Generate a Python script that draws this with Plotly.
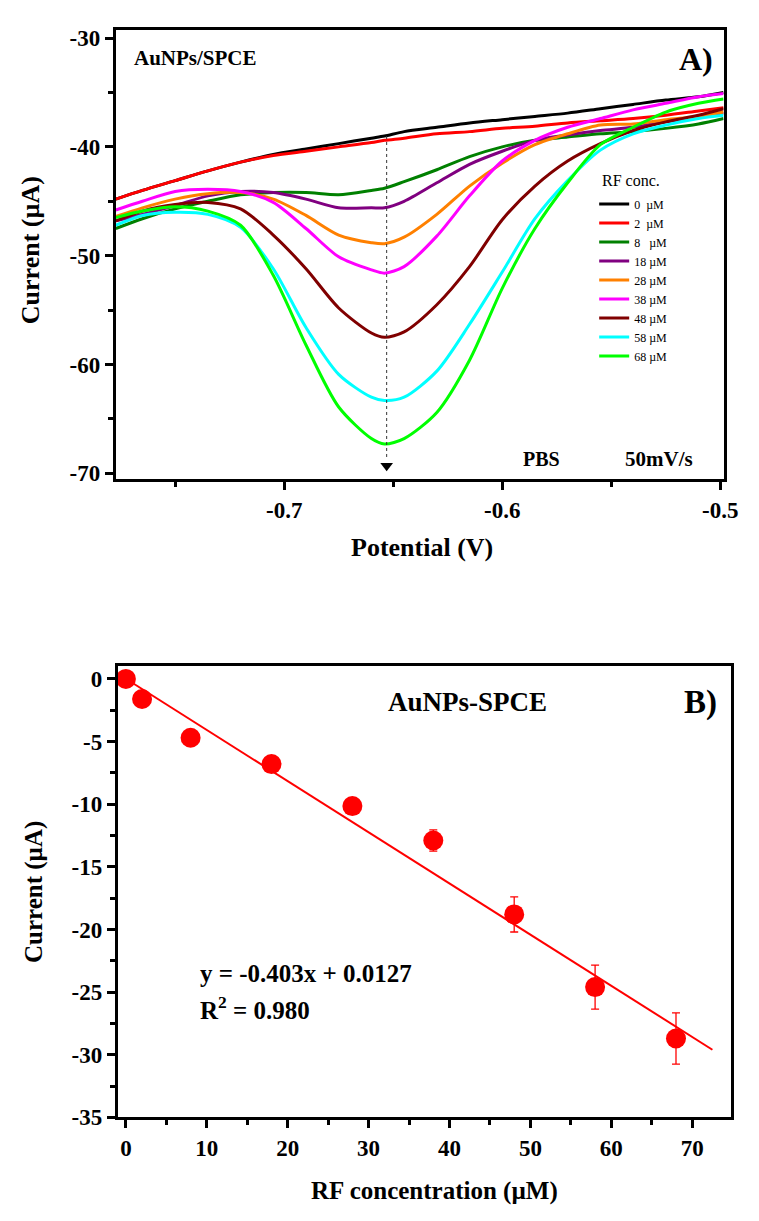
import plotly.graph_objects as go

# ---------------- Panel A data (DPV curves) ----------------
potential = [-0.7772, -0.765, -0.75, -0.735, -0.72, -0.705, -0.69, -0.675, -0.66, -0.654,
             -0.645, -0.63, -0.615, -0.60, -0.585, -0.57, -0.555, -0.54, -0.525, -0.51, -0.4985]

i_0uM = [-44.8, -44.0, -43.1, -42.2, -41.4, -40.7, -40.2, -39.7, -39.2, -39.0,
         -38.6, -38.2, -37.8, -37.5, -37.2, -36.9, -36.5, -36.1, -35.7, -35.4, -35.0]
i_2uM = [-44.8, -44.0, -43.1, -42.2, -41.4, -40.8, -40.4, -40.0, -39.6, -39.4,
         -39.2, -38.8, -38.6, -38.3, -38.1, -37.8, -37.6, -37.4, -37.1, -36.7, -36.4]
i_8uM = [-47.5, -46.6, -45.7, -45.0, -44.4, -44.2, -44.2, -44.4, -44.0, -43.8,
         -43.2, -42.1, -40.9, -40.0, -39.4, -39.1, -38.8, -38.6, -38.3, -37.9, -37.4]
i_18uM = [-46.8, -46.2, -45.4, -44.5, -44.1, -44.2, -44.8, -45.6, -45.6, -45.6,
          -45.0, -43.3, -41.6, -40.4, -39.4, -38.9, -38.5, -38.2, -37.7, -37.2, -36.9]
i_28uM = [-46.4, -45.6, -44.8, -44.3, -44.2, -44.8, -46.3, -48.1, -48.8, -48.9,
          -48.3, -46.2, -43.6, -41.5, -39.8, -38.8, -38.0, -37.9, -37.5, -37.2, -36.8]
i_38uM = [-45.8, -45.0, -44.1, -43.9, -44.1, -45.1, -47.5, -50.1, -51.3, -51.6,
          -51.0, -48.2, -44.5, -41.3, -39.4, -38.2, -37.4, -36.6, -36.0, -35.4, -35.1]
i_48uM = [-46.8, -45.9, -45.3, -45.1, -45.7, -48.1, -51.2, -54.8, -57.1, -57.5,
          -57.0, -54.5, -51.0, -46.7, -43.6, -41.3, -39.7, -38.5, -37.7, -37.1, -36.5]
i_58uM = [-47.2, -46.3, -46.0, -46.2, -47.4, -51.2, -56.6, -60.9, -63.0, -63.3,
          -63.0, -60.6, -56.3, -51.5, -46.6, -43.1, -40.3, -38.8, -38.0, -37.4, -37.1]
i_68uM = [-46.5, -45.9, -45.5, -45.9, -47.2, -51.8, -58.2, -63.9, -66.8, -67.3,
          -66.8, -64.4, -59.6, -53.0, -47.5, -43.3, -39.8, -38.2, -36.8, -36.0, -35.6]

curve_names = ["0\u00a0\u00a0µM", "2\u00a0\u00a0µM", "8\u00a0\u00a0\u00a0µM", "18 µM", "28 µM",
               "38 µM", "48 µM", "58 µM", "68 µM"]
curve_values = [i_0uM, i_2uM, i_8uM, i_18uM, i_28uM, i_38uM, i_48uM, i_58uM, i_68uM]
curve_colors = ["#000000", "#FF0000", "#008000", "#800080", "#FF8000",
                "#FF00FF", "#800000", "#00FFFF", "#00FF00"]

peak_potential = [-0.653, -0.653]
peak_line_current = [-39.0, -68.6]
arrow_current = [-69.3]

a_xticks = [-0.7, -0.6, -0.5]
a_xticklabels = ["-0.7", "-0.6", "-0.5"]
a_xminor = [-0.75, -0.65, -0.55]
a_yticks = [-30, -40, -50, -60, -70]
a_yticklabels = ["-30", "-40", "-50", "-60", "-70"]
a_yminor = [-35, -45, -55, -65]

# ---------------- Panel B data (calibration) ----------------
rf_conc = [0, 2, 8, 18, 28, 38, 48, 58, 68]
peak_current = [0.0, -1.6, -4.7, -6.8, -10.15, -12.9, -18.8, -24.6, -28.7]
current_err = [0.3, 0.3, 0.3, 0.3, 0.3, 0.85, 1.4, 1.75, 2.05]
fit_x = [0, 72.5]
fit_y = [0.0127, -29.6]

b_xticks = [0, 10, 20, 30, 40, 50, 60, 70]
b_xticklabels = ["0", "10", "20", "30", "40", "50", "60", "70"]
b_xminor = [5, 15, 25, 35, 45, 55, 65]
b_yticks = [0, -5, -10, -15, -20, -25, -30, -35]
b_yticklabels = ["0", "-5", "-10", "-15", "-20", "-25", "-30", "-35"]
b_yminor = [-2.5, -7.5, -12.5, -17.5, -22.5, -27.5, -32.5]

W, H = 759, 1221
FONT = "Liberation Serif"


def px(x):
    return x / W


def py(y):
    return 1 - y / H


fig = go.Figure()

for name, vals, col in zip(curve_names, curve_values, curve_colors):
    fig.add_trace(go.Scatter(x=potential, y=vals, mode="lines", name=name,
                             line=dict(color=col, width=3, shape="spline", smoothing=0.8),
                             xaxis="x", yaxis="y", showlegend=True))

fig.add_trace(go.Scatter(x=peak_potential, y=peak_line_current, mode="lines",
                         line=dict(color="#333333", width=1, dash="dot"),
                         xaxis="x", yaxis="y", showlegend=False))
fig.add_trace(go.Scatter(x=peak_potential[:1], y=arrow_current, mode="markers",
                         marker=dict(symbol="triangle-down", size=11, color="black"),
                         xaxis="x", yaxis="y", showlegend=False))

# Panel B
fig.add_trace(go.Scatter(x=fit_x, y=fit_y, mode="lines", line=dict(color="#FF0000", width=2),
                         xaxis="x2", yaxis="y2", showlegend=False))
fig.add_trace(go.Scatter(x=rf_conc, y=peak_current, mode="markers",
                         marker=dict(symbol="circle", size=20, color="#FF0000"),
                         error_y=dict(type="data", array=current_err, visible=True,
                                      color="#FF0000", thickness=1.3, width=4),
                         xaxis="x2", yaxis="y2", showlegend=False))

tickfont = dict(family=FONT, size=23, color="black", weight="bold")
common_axis = dict(showline=True, linecolor="black", linewidth=3, mirror=True,
                   ticks="outside", ticklen=8, tickwidth=3, tickcolor="black",
                   showgrid=False, zeroline=False, tickfont=tickfont)

fig.update_layout(
    width=W, height=H,
    margin=dict(l=0, r=0, t=0, b=0),
    paper_bgcolor="white", plot_bgcolor="white",
    font=dict(family=FONT, color="black"),
    xaxis=dict(domain=[px(110), px(730)], range=[-0.7772, -0.4985], anchor="y",
               tickmode="array", tickvals=a_xticks, ticktext=a_xticklabels,
               minor=dict(tickmode="array", tickvals=a_xminor, ticks="outside",
                          ticklen=5, tickwidth=3, tickcolor="black"),
               **common_axis),
    yaxis=dict(domain=[py(474), py(18)], range=[-70.55, -29.24], anchor="x",
               tickmode="array", tickvals=a_yticks, ticktext=a_yticklabels,
               minor=dict(tickmode="array", tickvals=a_yminor, ticks="outside",
                          ticklen=5, tickwidth=3, tickcolor="black"),
               **common_axis),
    xaxis2=dict(domain=[px(112), px(738)], range=[-1.0, 74.85], anchor="y2",
                tickmode="array", tickvals=b_xticks, ticktext=b_xticklabels,
                minor=dict(tickmode="array", tickvals=b_xminor, ticks="outside",
                           ticklen=5, tickwidth=3, tickcolor="black"),
                **common_axis),
    yaxis2=dict(domain=[py(1121), py(663)], range=[-35, 1.05], anchor="x2",
                tickmode="array", tickvals=b_yticks, ticktext=b_yticklabels,
                minor=dict(tickmode="array", tickvals=b_yminor, ticks="outside",
                           ticklen=5, tickwidth=3, tickcolor="black"),
                **common_axis),
    legend=dict(x=px(598), y=py(180), xanchor="left", yanchor="top",
                font=dict(family=FONT, size=12, color="black"),
                bgcolor="rgba(0,0,0,0)", borderwidth=0, tracegroupgap=0,
                itemwidth=30),
)

bold = "bold"
annotations = [
    dict(text="AuNPs/SPCE", x=px(127), y=py(47), xanchor="left", size=21, weight=bold),
    dict(text="A)", x=px(702), y=py(48), xanchor="center", size=32, weight=bold),
    dict(text="RF conc.", x=px(636), y=py(171), xanchor="center", size=16, weight="normal"),
    dict(text="PBS", x=px(544), y=py(453), xanchor="center", size=20, weight=bold),
    dict(text="50mV/s", x=px(664), y=py(453), xanchor="center", size=21, weight=bold),
    dict(text="Potential (V)", x=px(422), y=py(543), xanchor="center", size=26, weight=bold),
    dict(text="Current (µA)", x=px(23), y=py(242), xanchor="center", size=26, weight=bold,
         textangle=-90),
    dict(text="AuNPs-SPCE", x=px(469), y=py(700), xanchor="center", size=27, weight=bold),
    dict(text="B)", x=px(706), y=py(700), xanchor="center", size=33, weight=bold),
    dict(text="y = -0.403x + 0.0127", x=px(194), y=py(975), xanchor="left", size=25, weight=bold),
    dict(text="R<sup>2</sup> = 0.980", x=px(194), y=py(1010), xanchor="left", size=25, weight=bold),
    dict(text="Current (µA)", x=px(26), y=py(892), xanchor="center", size=25, weight=bold,
         textangle=-90),
    dict(text="RF concentration (µM)", x=px(435), y=py(1196), xanchor="center", size=25,
         weight=bold),
]
for a in annotations:
    fig.add_annotation(text=a["text"], x=a["x"], y=a["y"], xref="paper", yref="paper",
                       xanchor=a["xanchor"], yanchor="middle", showarrow=False,
                       textangle=a.get("textangle", 0),
                       font=dict(family=FONT, size=a["size"], color="black", weight=a["weight"]))

fig.write_html("out.html")
